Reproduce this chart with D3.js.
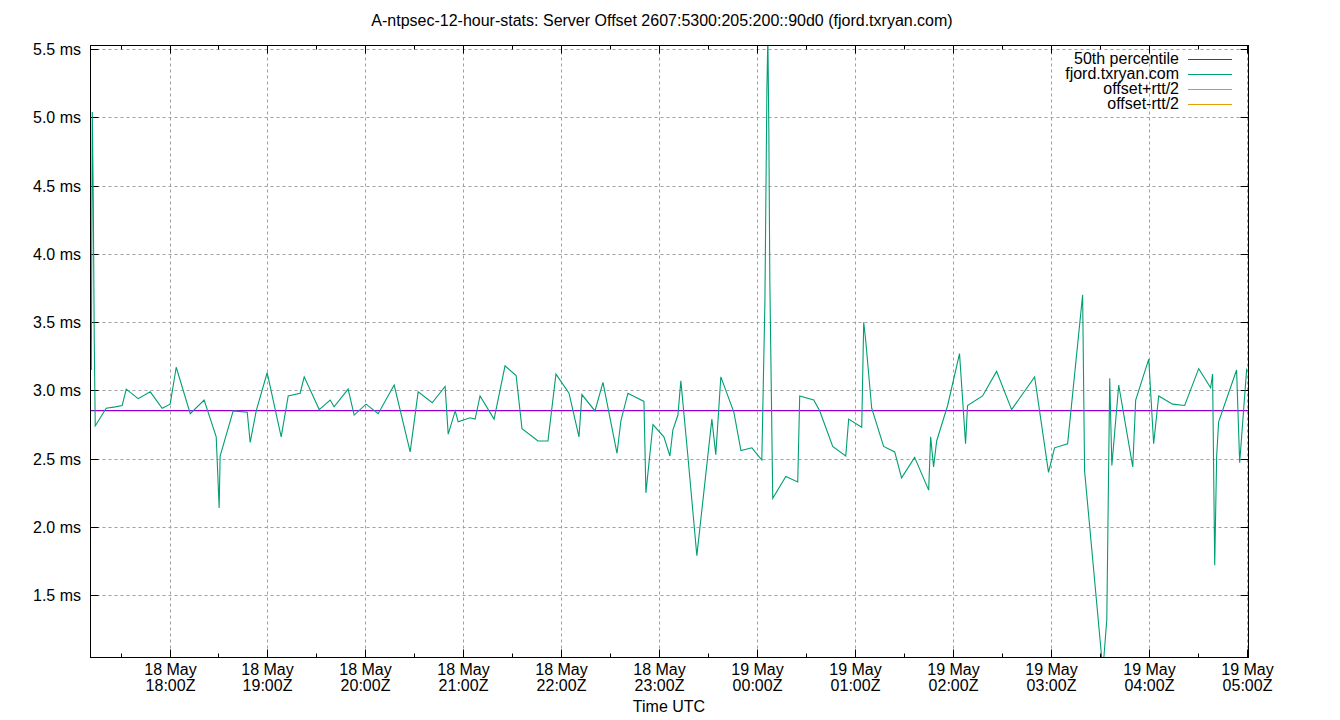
<!DOCTYPE html>
<html><head><meta charset="utf-8">
<script src="https://cdn.jsdelivr.net/npm/d3@7"></script>
<style>body{margin:0;background:#fff}text{font-family:"Liberation Sans",Arial,sans-serif}</style>
</head><body><svg id="c" width="1340" height="720"></svg>
<script>
// minutes after 18 May 17:00Z
const minutes=[12.1,12.7,13.3,13.9,14.5,21.2,26.8,31.0,33.5,40.8,48.2,55.5,60.4,64.1,72.7,81.2,88.6,90.4,91.0,99.0,107.6,109.4,113.1,119.8,128.4,132.7,140.0,142.5,151.7,158.4,160.8,169.4,173.1,180.4,187.8,197.6,207.4,212.3,220.9,228.8,230.7,235.0,236.8,244.1,247.2,250.2,258.8,265.5,272.3,275.9,285.7,291.8,296.7,304.7,310.8,312.6,320.6,325.5,334.1,336.5,340.8,350.6,351.8,356.1,362.8,366.5,368.3,371.4,373.2,377.5,383.0,392.2,394.6,397.7,405.7,410.0,416.7,422.8,424.7,425.9,426.5,427.1,427.7,429.5,437.5,444.8,446.0,454.6,458.3,466.2,474.2,476.0,484.0,485.2,486.4,490.1,497.4,504.2,508.4,516.4,525.0,526.2,528.0,529.9,536.6,543.9,547.6,548.8,558.0,566.6,575.8,589.9,598.4,602.1,610.1,619.3,620.5,631.7,634.1,635.9,637.2,641.4,650.0,651.8,659.8,662.8,665.9,674.4,681.8,690.4,697.7,698.9,700.2,701.4,702.6,713.6,715.5,719.8];
const offsetMs=[3.15,5.04,4.39,3.37,2.74,2.87,2.88,2.89,3.01,2.94,2.99,2.87,2.90,3.17,2.83,2.93,2.66,2.14,2.52,2.85,2.84,2.62,2.85,3.13,2.66,2.96,2.98,3.10,2.86,2.93,2.88,3.01,2.82,2.90,2.83,3.04,2.55,2.99,2.91,3.03,2.68,2.85,2.77,2.80,2.79,2.96,2.79,3.18,3.11,2.72,2.63,2.63,3.12,2.98,2.66,2.97,2.85,3.06,2.54,2.78,2.98,2.92,2.25,2.75,2.66,2.52,2.71,2.82,3.07,2.52,1.79,2.79,2.53,3.10,2.84,2.56,2.58,2.49,3.66,5.20,5.60,4.90,3.81,2.21,2.37,2.33,2.96,2.93,2.85,2.59,2.52,2.79,2.73,3.50,3.37,2.87,2.59,2.55,2.36,2.51,2.27,2.66,2.44,2.63,2.89,3.27,2.61,2.89,2.96,3.14,2.86,3.10,2.40,2.58,2.61,3.70,2.41,0.95,1.32,3.09,2.45,3.04,2.44,2.93,3.23,2.61,2.96,2.90,2.89,3.16,3.02,3.12,1.72,2.52,2.77,3.15,2.47,3.16];
const medianMs=2.853;
const yTicks=[1.5,2.0,2.5,3.0,3.5,4.0,4.5,5.0,5.5];
const xTickHours=[1,2,3,4,5,6,7,8,9,10,11,12];
const xTickDates=["18 May","18 May","18 May","18 May","18 May","18 May","19 May","19 May","19 May","19 May","19 May","19 May"];
const xTickTimes=["18:00Z","19:00Z","20:00Z","21:00Z","22:00Z","23:00Z","00:00Z","01:00Z","02:00Z","03:00Z","04:00Z","05:00Z"];
const legend=[["50th percentile","#9400d3"],["fjord.txryan.com","#009e73"],["offset+rtt/2","#56b4e9"],["offset-rtt/2","#e69f00"]];

const svg=d3.select("#c");
const FS=16;
const L=90.5,R=1248.5,T=45.5,B=657.5;
const x=d3.scaleLinear().domain([11.6,720.9]).range([L,R]);
const y=d3.scaleLinear().domain([1.044,5.527]).range([B,T]);
svg.append("defs").append("clipPath").attr("id","clip").append("rect").attr("x",L).attr("y",T).attr("width",R-L).attr("height",B-T);
yTicks.forEach(v=>svg.append("line").attr("x1",L).attr("x2",R).attr("y1",Math.round(y(v))+.5).attr("y2",Math.round(y(v))+.5).attr("stroke","#a0a0a0").attr("stroke-dasharray","3,3"));
xTickHours.forEach(h=>svg.append("line").attr("y1",T).attr("y2",B).attr("x1",Math.round(x(h*60))+.5).attr("x2",Math.round(x(h*60))+.5).attr("stroke","#a0a0a0").attr("stroke-dasharray","3,3"));
yTicks.forEach(v=>{const yy=Math.round(y(v))+.5;
 svg.append("line").attr("x1",L).attr("x2",L+8).attr("y1",yy).attr("y2",yy).attr("stroke","#000");
 svg.append("line").attr("x1",R-8).attr("x2",R).attr("y1",yy).attr("y2",yy).attr("stroke","#000");
 svg.append("text").attr("x",81).attr("y",yy+5).attr("text-anchor","end").attr("font-size",FS).text(v.toFixed(1)+" ms");});
xTickHours.forEach((h,i)=>{const xx=Math.round(x(h*60))+.5;
 svg.append("line").attr("x1",xx).attr("x2",xx).attr("y1",B).attr("y2",B-8).attr("stroke","#000");
 svg.append("line").attr("x1",xx).attr("x2",xx).attr("y1",T).attr("y2",T+8).attr("stroke","#000");
 svg.append("text").attr("x",xx).attr("y",675).attr("text-anchor","middle").attr("font-size",FS).text(xTickDates[i]);
 svg.append("text").attr("x",xx).attr("y",691).attr("text-anchor","middle").attr("font-size",FS).text(xTickTimes[i]);});
for(let m=30;m<=720;m+=60){const xx=Math.round(x(m))+.5;
 svg.append("line").attr("x1",xx).attr("x2",xx).attr("y1",B).attr("y2",B-4).attr("stroke","#000");
 svg.append("line").attr("x1",xx).attr("x2",xx).attr("y1",T).attr("y2",T+4).attr("stroke","#000");}
const g=svg.append("g").attr("clip-path","url(#clip)");
g.append("line").attr("x1",L).attr("x2",R).attr("y1",y(medianMs)).attr("y2",y(medianMs)).attr("stroke","#9400d3").attr("stroke-width",1.2);
g.append("path").datum(minutes.map((m,i)=>[m,offsetMs[i]])).attr("d",d3.line().x(d=>x(d[0])).y(d=>y(d[1]))).attr("fill","none").attr("stroke","#009e73").attr("stroke-width",1.1);
svg.append("rect").attr("x",L).attr("y",T).attr("width",R-L).attr("height",B-T).attr("fill","none").attr("stroke","#000");
legend.forEach((d,i)=>{const yy=59+i*15;
 svg.append("text").attr("x",1179).attr("y",yy+5).attr("text-anchor","end").attr("font-size",FS).text(d[0]);
 svg.append("line").attr("x1",1188).attr("x2",1232).attr("y1",yy+.5).attr("y2",yy+.5).attr("stroke",d[1]).attr("stroke-width",1.2);});
svg.append("text").attr("x",662).attr("y",26).attr("text-anchor","middle").attr("font-size",FS).text("A-ntpsec-12-hour-stats: Server Offset 2607:5300:205:200::90d0 (fjord.txryan.com)");
svg.append("text").attr("x",669).attr("y",712).attr("text-anchor","middle").attr("font-size",FS).text("Time UTC");
</script></body></html>
